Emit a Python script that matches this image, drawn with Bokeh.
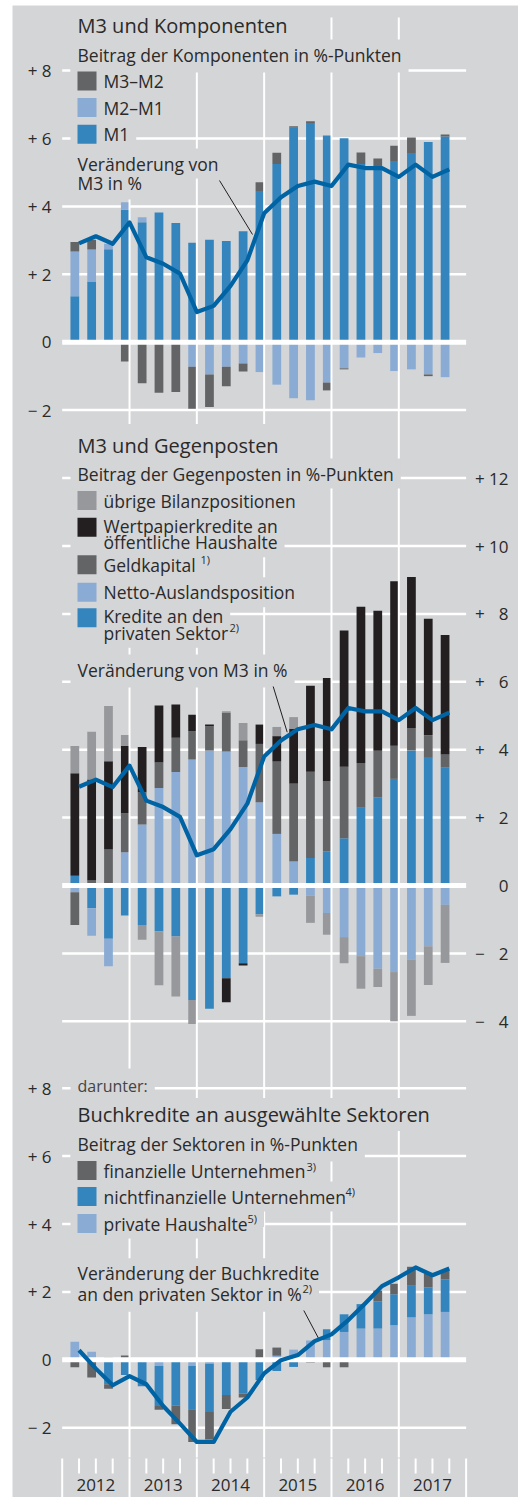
import numpy as np
from bokeh.plotting import figure
from bokeh.models import Range1d
from bokeh.core.properties import value
from bokeh.embed import file_html
from bokeh.resources import INLINE

# ---------------- data ----------------
years = ["2012", "2013", "2014", "2015", "2016", "2017"]
quarter_end = list(range(1, 24))          # 2012 Q1 ... 2017 Q3 (index of quarter end)

# Panel 1: M3 und Komponenten (contributions, %-points)
m1 = [1.35, 1.79, 2.74, 3.90, 3.53, 3.82, 3.51, 2.93, 3.02, 2.98, 3.27, 4.45,
      5.25, 6.32, 6.46, 6.09, 6.01, 5.25, 5.18, 5.34, 5.57, 5.90, 6.06]
m2_m1 = [1.32, 0.94, 0.16, 0.22, 0.15, 0.0, 0.0, -0.72, -0.95, -0.72, -0.63, -0.88,
         -1.25, -1.65, -1.71, -1.19, -0.77, -0.45, -0.32, -0.85, -0.80, -0.95, -1.03]
m3_m2 = [0.28, 0.29, 0.0, -0.57, -1.21, -1.49, -1.47, -1.24, -0.96, -0.58, -0.23, 0.26,
         0.33, 0.04, 0.05, -0.23, -0.03, 0.34, 0.23, 0.45, 0.46, -0.05, 0.06]
m3_growth = [2.91, 3.12, 2.90, 3.53, 2.50, 2.31, 2.02, 0.89, 1.07, 1.66, 2.41, 3.80,
             4.27, 4.60, 4.73, 4.60, 5.23, 5.13, 5.13, 4.87, 5.23, 4.87, 5.09]

# Panel 2: M3 und Gegenposten
kredite_priv = [0.29, -0.67, -1.57, -0.88, -1.16, -1.35, -1.50, -3.37, -3.63, -2.73, -2.29, -0.85,
                -0.32, -0.27, 0.81, 1.00, 1.39, 2.29, 2.60, 3.14, 3.98, 3.76, 3.47]
netto_ausland = [-0.20, -0.81, -0.81, 0.98, 1.80, 2.87, 3.34, 3.71, 3.98, 3.95, 3.49, 2.45,
                 1.52, 0.71, -0.30, -0.81, -1.52, -2.08, -2.45, -2.55, -2.19, -1.79, -0.57]
geldkapital = [-0.96, 0.15, 1.06, 1.15, 0.95, 0.75, 1.01, 0.83, 0.71, 1.13, 0.79, 1.72,
               2.13, 2.29, 2.54, 2.06, 2.11, 1.32, 1.37, 0.98, 0.66, 0.67, 0.39]
wertpapier_oeff = [3.02, 2.97, 2.60, 1.98, 1.33, 1.68, 0.98, 0.49, 0.05, -0.71, -0.07, 0.57,
                   0.75, 1.62, 2.53, 3.05, 4.01, 4.60, 4.12, 4.84, 4.45, 3.43, 3.52]
uebrige = [0.80, 1.41, 1.63, 0.32, -0.44, -1.59, -1.77, -0.71, 0.0, 0.05, 0.51, -0.07,
           0.27, 0.34, -0.80, -0.64, -0.77, -0.96, -0.54, -1.45, -1.65, -1.14, -1.71]

# Panel 3: Buchkredite an ausgewählte Sektoren
private_hh = [0.53, 0.24, 0.08, 0.0, -0.05, -0.18, -0.05, -0.18, -0.12, 0.0, 0.0, 0.0,
              0.12, 0.30, 0.57, 0.58, 0.82, 0.92, 0.92, 1.02, 1.25, 1.34, 1.41]
nichtfin_unt = [0.0, 0.0, -0.72, -0.45, -0.73, -1.18, -1.30, -1.28, -1.42, -1.04, -0.99, -0.60,
                -0.33, -0.21, 0.0, 0.32, 0.52, 0.72, 0.80, 0.91, 0.95, 0.79, 0.96]
fin_unt = [-0.22, -0.52, -0.13, 0.13, 0.0, -0.11, -0.55, -0.96, -0.81, -0.41, -0.12, 0.31,
           0.24, 0.0, -0.08, -0.22, -0.22, 0.0, 0.32, 0.31, 0.54, 0.41, 0.27]
buchkredite_growth = [0.28, -0.26, -0.75, -0.48, -0.72, -1.36, -1.88, -2.42, -2.42, -1.53, -1.11, -0.40,
                      -0.01, 0.14, 0.55, 0.75, 1.17, 1.66, 2.17, 2.43, 2.72, 2.49, 2.69]

ticks_1 = [8, 6, 4, 2, 0, -2]
labels_1 = ["+ 8", "+ 6", "+ 4", "+ 2", "0", "\u2212 2"]
ticks_2 = [12, 10, 8, 6, 4, 2, 0, -2, -4]
labels_2 = ["+ 12", "+ 10", "+ \u20078", "+ \u20076", "+ \u20074", "+ \u20072", "0",
            "\u2212 \u20072", "\u2212 \u20074"]
ticks_3 = [8, 6, 4, 2, 0, -2]
labels_3 = ["+ 8", "+ 6", "+ 4", "+ 2", "0", "\u2212 2"]

# ---------------- style ----------------
BG = "#d4d5d7"
C_BLUE = "#3485bd"
C_LBLUE = "#8aabd3"
C_DGREY = "#636466"
C_MGREY = "#97989b"
C_BLACK = "#231f20"
C_LINE = "#0063a3"
TXT = "#2a2a2a"
FONT = "Open Sans"

# layout (page pixels)
W, H = 518, 1497
TOP, BOT = 5, 1497
PXU = 33.95           # pixels per percentage point
Z1, Z2, Z3 = 341.7, 885.0, 1359.3
X_LEFT_PX, X_RIGHT_PX = 12, 518
Q0_PX, QPX = 61.7, 16.83


def yr(z):
    return Range1d(start=(z - BOT) / PXU, end=(z - TOP) / PXU)


p = figure(width=W, height=H,
           x_range=Range1d((X_LEFT_PX - Q0_PX) / QPX, (X_RIGHT_PX - Q0_PX) / QPX),
           y_range=yr(Z1),
           x_axis_location=None, y_axis_location=None, toolbar_location=None,
           output_backend="svg",
           min_border_left=X_LEFT_PX, min_border_right=W - X_RIGHT_PX,
           min_border_top=TOP, min_border_bottom=H - BOT,
           background_fill_color=BG, border_fill_color="white", outline_line_color=None)
p.extra_y_ranges = {"p2": yr(Z2), "p3": yr(Z3), "py": Range1d(BOT, TOP)}
p.extra_x_ranges = {"px": Range1d(X_LEFT_PX, X_RIGHT_PX)}
p.grid.visible = False

qe = np.array(quarter_end, dtype=float)
bar_x = qe - 0.25
BAR_W = 0.52


def hgrid(ticks, rname):
    t = [v for v in ticks if v != 0]
    p.segment(x0=[0] * len(t), x1=[24] * len(t), y0=t, y1=t, line_color="white",
              line_width=2.5, y_range_name=rname)


def stacked(series, rname):
    n = len(series[0][0])
    pos = np.zeros(n)
    neg = np.zeros(n)
    for vals, col in series:
        v = np.array(vals, dtype=float)
        bottom = np.where(v >= 0, pos, neg)
        top = bottom + v
        pos = np.where(v >= 0, top, pos)
        neg = np.where(v < 0, top, neg)
        p.vbar(x=bar_x, width=BAR_W, bottom=bottom, top=top, fill_color=col,
               line_color=None, y_range_name=rname)


# gridlines (behind bars)
hgrid(ticks_1, "default")
hgrid(ticks_2, "p2")
hgrid(ticks_3, "p3")

# bars
stacked([(m1, C_BLUE), (m2_m1, C_LBLUE), (m3_m2, C_DGREY)], "default")
stacked([(kredite_priv, C_BLUE), (netto_ausland, C_LBLUE), (geldkapital, C_DGREY),
         (wertpapier_oeff, C_BLACK), (uebrige, C_MGREY)], "p2")
stacked([(private_hh, C_LBLUE), (nichtfin_unt, C_BLUE), (fin_unt, C_DGREY)], "p3")

# zero lines
for rn in ["default", "p2", "p3"]:
    p.segment(x0=[0], x1=[24], y0=[0], y1=[0], line_color="white", line_width=5,
              y_range_name=rn)

# vertical year separators and bottom ticks
yb = [4, 8, 12, 16, 20]
p.segment(x0=yb, x1=yb, y0=[17] * 5, y1=[1457] * 5, line_color="white", line_width=2,
          y_range_name="py")
yt = [0, 4, 8, 12, 16, 20, 24]
p.segment(x0=yt, x1=yt, y0=[1458] * 7, y1=[1497] * 7, line_color="white", line_width=2,
          y_range_name="py")
qt = [q for q in range(25) if q % 4 != 0]
p.segment(x0=qt, x1=qt, y0=[1458] * len(qt), y1=[1473] * len(qt), line_color="white",
          line_width=2, y_range_name="py")

# ---------------- texts (page pixel positions of the text itself) ----------------
LEG = (33, 7, 3, 3)
STD = (7, 7, 3, 3)
SUP = (1, 2, 1, 1)
texts = [
    # x, y, text, size, pad, color
    (77, 25, "M3 und Komponenten", 20, STD, TXT),
    (77, 54, "Beitrag der Komponenten in %-Punkten", 17.5, (7, 7, 3, 6), TXT),
    (103, 80.5, "M3\u2013M2", 17.5, LEG, TXT),
    (103, 107, "M2\u2013M1", 17.5, LEG, TXT),
    (103, 133.7, "M1", 17.5, LEG, TXT),
    (77, 163, "Ver\u00e4nderung von", 17.5, STD, TXT),
    (77, 182, "M3 in %", 17.5, (7, 7, 3, 5), TXT),

    (77, 445, "M3 und Gegenposten", 20, (7, 7, 8, 3), TXT),
    (77, 473, "Beitrag der Gegenposten in %-Punkten", 17.5, STD, TXT),
    (103, 500, "\u00fcbrige Bilanzpositionen", 17.5, LEG, TXT),
    (103, 525, "Wertpapierkredite an", 17.5, LEG, TXT),
    (103, 541.7, "\u00f6ffentliche Haushalte", 17.5, LEG, TXT),
    (103, 564.3, "Geldkapital", 17.5, LEG, TXT),
    (200, 559, "1)", 11, SUP, TXT),
    (103, 591.7, "Netto-Auslandsposition", 17.5, LEG, TXT),
    (103, 615, "Kredite an den", 17.5, LEG, TXT),
    (103, 632.3, "privaten Sektor", 17.5, LEG, TXT),
    (229, 627, "2)", 11, SUP, TXT),
    (77, 669, "Ver\u00e4nderung von M3 in %", 17.5, (7, 7, 3, 6), TXT),

    (77, 1085, "darunter:", 16, (7, 7, 6, 3), "#444444"),
    (77, 1114, "Buchkredite an ausgew\u00e4hlte Sektoren", 20, STD, TXT),
    (77, 1143, "Beitrag der Sektoren in %-Punkten", 17.5, (7, 7, 3, 6), TXT),
    (103, 1170, "finanzielle Unternehmen", 17.5, LEG, TXT),
    (306, 1166, "3)", 11, SUP, TXT),
    (103, 1196, "nichtfinanzielle Unternehmen", 17.5, LEG, TXT),
    (345, 1191, "4)", 11, SUP, TXT),
    (103, 1223, "private Haushalte", 17.5, LEG, TXT),
    (247, 1218, "5)", 11, (1, 7, 1, 1), TXT),
    (77, 1272.7, "Ver\u00e4nderung der Buchkredite", 17.5, STD, TXT),
    (77, 1293.3, "an den privaten Sektor in %", 17.5, (7, 7, 3, 6), TXT),
    (302, 1288, "2)", 11, (1, 7, 1, 1), TXT),
]

# pass 1: grey boxes that interrupt the gridlines
for x, y, s, size, (l, r, t, b), col in texts:
    p.text(x=[x - l], y=[y - (t - b) / 2.0], text=[s], text_font=value(FONT),
           text_font_size=f"{size}px", text_alpha=0.0, text_align="left",
           text_baseline="middle", background_fill_color=BG,
           padding=dict(left=l, right=r, top=t, bottom=b),
           x_range_name="px", y_range_name="py")
# pass 2: the texts themselves
for x, y, s, size, pad, col in texts:
    p.text(x=[x], y=[y], text=[s], text_font=value(FONT), text_font_size=f"{size}px",
           text_color=col, text_align="left", text_baseline="middle",
           x_range_name="px", y_range_name="py")

# legend swatches
sw_y = [80.5, 107, 133.7, 500, 526.7, 564.3, 591.7, 617.3, 1170, 1196, 1223]
sw_c = [C_DGREY, C_LBLUE, C_BLUE, C_MGREY, C_BLACK, C_DGREY, C_LBLUE, C_BLUE,
        C_DGREY, C_BLUE, C_LBLUE]
p.rect(x=[86.5] * len(sw_y), y=sw_y, width=19, height=19, width_units="screen",
       height_units="screen", fill_color=sw_c, line_color=None,
       x_range_name="px", y_range_name="py")


# tick labels
def ticklabels(xpx, ticks, labels, rname, align):
    p.text(x=[xpx] * len(ticks), y=ticks, text=labels, text_font=value(FONT),
           text_font_size="17px", text_color=TXT, text_align=align, text_baseline="middle",
           x_range_name="px", y_range_name=rname)


ticklabels(51, ticks_1, labels_1, "default", "right")
ticklabels(508, ticks_2, labels_2, "p2", "right")
ticklabels(51, ticks_3, labels_3, "p3", "right")

p.text(x=[2, 6, 10, 14, 18, 22], y=[1484] * 6, text=years, text_font=value(FONT),
       text_font_size="17px", text_color=TXT, text_align="center", text_baseline="middle",
       y_range_name="py")

# pointer lines for the line labels
p.segment(x0=[219, 272.7, 303.3], y0=[180, 686, 1310], x1=[252, 286.7, 318.3],
          y1=[234, 731.7, 1338.3], line_color="#231f20", line_width=1,
          x_range_name="px", y_range_name="py")

# growth lines
p.line(x=qe, y=m3_growth, line_color=C_LINE, line_width=4.2, line_join="round")
p.line(x=qe, y=m3_growth, line_color=C_LINE, line_width=4.2, line_join="round",
       y_range_name="p2")
p.line(x=qe, y=buchkredite_growth, line_color=C_LINE, line_width=4.2, line_join="round",
       y_range_name="p3")

open("out.html", "w").write(file_html(p, INLINE))
